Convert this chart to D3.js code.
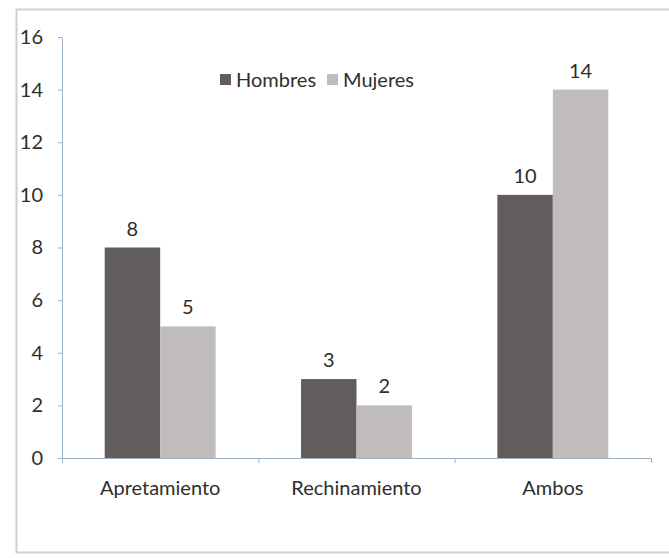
<!DOCTYPE html>
<html lang="es">
<head>
<meta charset="utf-8">
<title>Hombres y Mujeres</title>
<script src="https://d3js.org/d3.v7.min.js"></script>
<style>
  body { margin: 0; background: #fff; }
  text { font-family: Lato, "Open Sans", sans-serif; fill: #2e2e2e; }
</style>
</head>
<body>
<svg id="svg" width="669" height="558"></svg>
<script>
// data
var categories = ["Apretamiento", "Rechinamiento", "Ambos"];
var series = ["Hombres", "Mujeres"];
var hombres = [8, 3, 10];
var mujeres = [5, 2, 14];
var yTicks = [0, 2, 4, 6, 8, 10, 12, 14, 16];
var colors = ["#625d5d", "#c0bcbb"];

var svg = d3.select("#svg");
var fs = "20px";

// outer frame
svg.append("rect")
    .attr("x", 16.5).attr("y", 9.5)
    .attr("width", 700).attr("height", 543)
    .attr("fill", "none").attr("stroke", "#cfcfcf").attr("stroke-width", 2);

var pLeft = 62, pRight = 651, pTop = 37, pBottom = 458;

var x0 = d3.scaleBand().domain(categories).range([pLeft, pRight])
    .paddingInner(0.435).paddingOuter(0.2175);
var x1 = d3.scaleBand().domain(series).range([0, x0.bandwidth()]);
var y = d3.scaleLinear().domain([0, 16]).range([pBottom, pTop]);

var axisColor = "#9fb3c6";

// y axis
var yAxis = svg.append("g")
    .attr("transform", "translate(" + pLeft + ",0)")
    .call(d3.axisLeft(y).tickValues(yTicks).tickSize(4).tickPadding(15));
yAxis.select(".domain").attr("stroke", axisColor);
yAxis.selectAll(".tick line").attr("stroke", axisColor);
yAxis.selectAll(".tick text").style("font-size", fs).style("font-family", "Lato, sans-serif").attr("fill", "#2e2e2e");

// bars
var rows = categories.map(function(c, i) {
    return { cat: c, vals: [hombres[i], mujeres[i]] };
});
var groups = svg.selectAll("g.cat").data(rows).enter().append("g")
    .attr("class", "cat")
    .attr("transform", function(d) { return "translate(" + x0(d.cat) + ",0)"; });

groups.selectAll("rect").data(function(d) {
        return d.vals.map(function(v, j) { return { s: series[j], v: v, j: j }; });
    })
    .enter().append("rect")
    .attr("x", function(d) { return x1(d.s); })
    .attr("y", function(d) { return y(d.v); })
    .attr("width", x1.bandwidth())
    .attr("height", function(d) { return pBottom - y(d.v); })
    .attr("fill", function(d) { return colors[d.j]; });

groups.selectAll("text.val").data(function(d) {
        return d.vals.map(function(v, j) { return { s: series[j], v: v }; });
    })
    .enter().append("text")
    .attr("class", "val")
    .attr("x", function(d) { return x1(d.s) + x1.bandwidth() / 2; })
    .attr("y", function(d) { return y(d.v) - 12; })
    .attr("text-anchor", "middle")
    .style("font-size", fs)
    .text(function(d) { return d.v; });

// x axis: ticks at category boundaries
var step = x0.step();
var xAxisG = svg.append("g");
xAxisG.append("line")
    .attr("x1", pLeft).attr("x2", pRight)
    .attr("y1", pBottom + 0.5).attr("y2", pBottom + 0.5)
    .attr("stroke", axisColor);
xAxisG.selectAll("line.tk").data(d3.range(categories.length + 1)).enter().append("line")
    .attr("class", "tk")
    .attr("x1", function(i) { return pLeft + i * step + 0.5; })
    .attr("x2", function(i) { return pLeft + i * step + 0.5; })
    .attr("y1", pBottom).attr("y2", pBottom + 5)
    .attr("stroke", axisColor);
xAxisG.selectAll("text").data(categories).enter().append("text")
    .attr("x", function(d) { return x0(d) + x0.bandwidth() / 2; })
    .attr("y", 495)
    .attr("text-anchor", "middle")
    .style("font-size", fs)
    .text(function(d) { return d; });

// legend
var legend = svg.append("g").attr("transform", "translate(220,74)");
var lx = [0, 107];
series.forEach(function(s, i) {
    legend.append("rect")
        .attr("x", lx[i]).attr("y", 0)
        .attr("width", 11).attr("height", 11)
        .attr("fill", colors[i]);
    legend.append("text")
        .attr("x", lx[i] + 16).attr("y", 13)
        .style("font-size", fs)
        .text(s);
});
</script>
</body>
</html>
